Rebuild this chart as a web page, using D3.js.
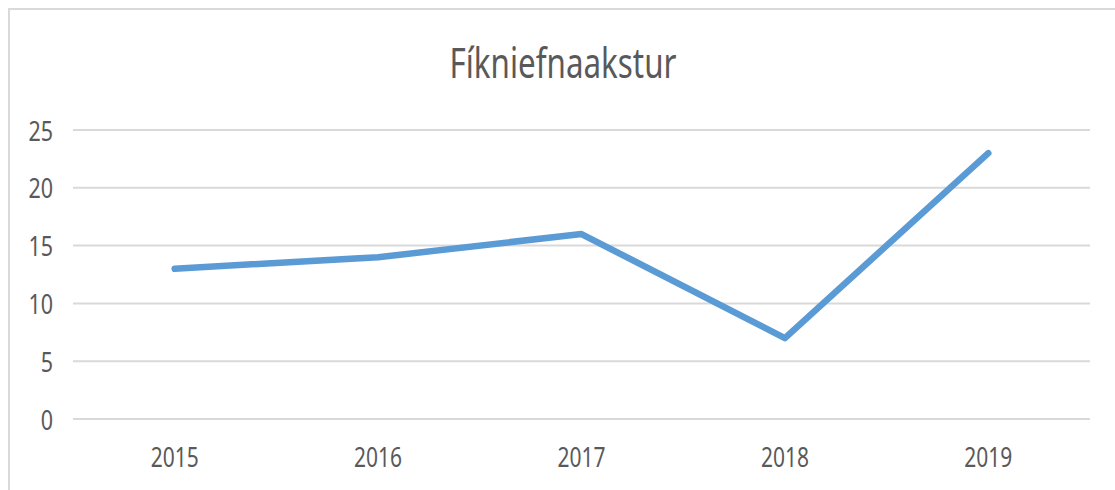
<!DOCTYPE html>
<html>
<head>
<meta charset="utf-8">
<script src="https://cdn.jsdelivr.net/npm/d3@7"></script>
<style>
  body { margin: 0; background: #fff; }
  svg { display: block; }
</style>
</head>
<body>
<div id="chart"></div>
<script>
const title = "Fíkniefnaakstur";
const years = ["2015", "2016", "2017", "2018", "2019"];
const values = [13, 14, 16, 7, 23];
const yTicks = [0, 5, 10, 15, 20, 25];

const width = 1115, height = 490;
const margin = { top: 130, right: 25, bottom: 71, left: 73 };
const textColor = "#595959";
const gridColor = "#d9d9d9";

const svg = d3.select("#chart").append("svg")
  .attr("width", width)
  .attr("height", height);

// outer chart border (only top and left visible in the crop)
svg.append("path")
  .attr("d", `M9,${height} L9,9 L${width},9`)
  .attr("fill", "none")
  .attr("stroke", gridColor)
  .attr("stroke-width", 2);

const x = d3.scaleBand()
  .domain(years)
  .range([margin.left, width - margin.right]);

const y = d3.scaleLinear()
  .domain([0, 25])
  .range([height - margin.bottom, margin.top]);

// gridlines
svg.append("g")
  .selectAll("line")
  .data(yTicks)
  .join("line")
  .attr("x1", margin.left)
  .attr("x2", width - margin.right)
  .attr("y1", d => y(d))
  .attr("y2", d => y(d))
  .attr("stroke", gridColor)
  .attr("stroke-width", 2);

// y axis labels
const yAxis = svg.append("g")
  .attr("transform", `translate(${margin.left - 20},0)`)
  .call(d3.axisLeft(y).tickValues(yTicks).tickSize(0).tickPadding(0));
yAxis.select(".domain").remove();
yAxis.selectAll("text")
  .attr("font-family", "'Noto Sans', sans-serif")
  .attr("font-size", 28)
  .attr("fill", textColor)
  .attr("dy", "0.36em")
  .attr("textLength", d => String(d).length * 12.3)
  .attr("lengthAdjust", "spacingAndGlyphs");

// x axis labels
const xAxis = svg.append("g")
  .attr("transform", `translate(0,${height - margin.bottom})`)
  .call(d3.axisBottom(x).tickSize(0).tickPadding(0));
xAxis.select(".domain").remove();
xAxis.selectAll("text")
  .attr("font-family", "'Noto Sans', sans-serif")
  .attr("font-size", 28)
  .attr("fill", textColor)
  .attr("dy", 0)
  .attr("y", 48)
  .attr("textLength", 48)
  .attr("lengthAdjust", "spacingAndGlyphs");

// title
svg.append("text")
  .attr("x", 563)
  .attr("y", 78)
  .attr("text-anchor", "middle")
  .attr("font-family", "'Noto Sans', sans-serif")
  .attr("font-size", 42)
  .attr("fill", textColor)
  .attr("textLength", 227)
  .attr("lengthAdjust", "spacingAndGlyphs")
  .text(title);

// line
const line = d3.line()
  .x((d, i) => x(years[i]) + x.bandwidth() / 2)
  .y(d => y(d));

svg.append("path")
  .datum(values)
  .attr("d", line)
  .attr("fill", "none")
  .attr("stroke", "#5b9bd5")
  .attr("stroke-width", 6.5)
  .attr("stroke-linecap", "round")
  .attr("stroke-linejoin", "round");
</script>
</body>
</html>
